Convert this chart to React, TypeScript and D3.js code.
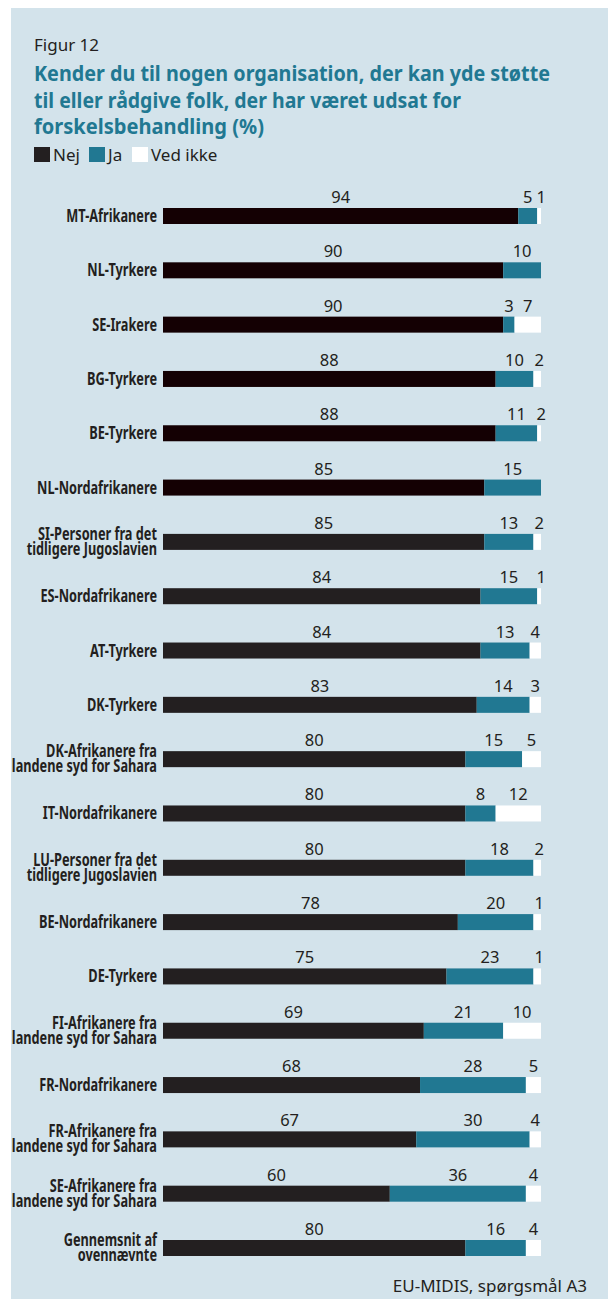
import * as d3 from "d3";

const categories = [
  "MT-Afrikanere",
  "NL-Tyrkere",
  "SE-Irakere",
  "BG-Tyrkere",
  "BE-Tyrkere",
  "NL-Nordafrikanere",
  "SI-Personer fra det|tidligere Jugoslavien",
  "ES-Nordafrikanere",
  "AT-Tyrkere",
  "DK-Tyrkere",
  "DK-Afrikanere fra|landene syd for Sahara",
  "IT-Nordafrikanere",
  "LU-Personer fra det|tidligere Jugoslavien",
  "BE-Nordafrikanere",
  "DE-Tyrkere",
  "FI-Afrikanere fra|landene syd for Sahara",
  "FR-Nordafrikanere",
  "FR-Afrikanere fra|landene syd for Sahara",
  "SE-Afrikanere fra|landene syd for Sahara",
  "Gennemsnit af|ovennævnte",
];
const nej = [94, 90, 90, 88, 88, 85, 85, 84, 84, 83, 80, 80, 80, 78, 75, 69, 68, 67, 60, 80];
const ja = [5, 10, 3, 10, 11, 15, 13, 15, 13, 14, 15, 8, 18, 20, 23, 21, 28, 30, 36, 16];
const vedIkke = [1, 0, 7, 2, 2, 0, 2, 1, 4, 3, 5, 12, 2, 1, 1, 10, 5, 4, 4, 4];

const legendLabels = ["Nej", "Ja", "Ved ikke"];
const titleLines = [
  "Kender du til nogen organisation, der kan yde støtte",
  "til eller rådgive folk, der har været udsat for",
  "forskelsbehandling (%)",
];
const titleWidths = [516, 427, 230];

const W = 608;
const H = 1299;
const BG = "#d3e3eb";
const TEAL = "#217892";
const DARK = "#231f20";
const DARK_RED = "#140003";
const FONT = "'Noto Sans', 'Open Sans', sans-serif";

export default function App() {
  const x = d3.scaleLinear().domain([0, 100]).range([163, 541]);
  const y = d3.scalePoint<string>().domain(categories).range([216, 1248]);
  const barH = 16;

  const rows = categories.map((c, i) => {
    const a = nej[i];
    const b = nej[i] + ja[i];
    return {
      name: c,
      lines: c.split("|"),
      segs: [
        { x0: 0, x1: a, v: nej[i], fill: i < 6 ? DARK_RED : DARK },
        { x0: a, x1: b, v: ja[i], fill: TEAL },
        // "Ved ikke" fills the rest of the bar up to 100 %
        { x0: b, x1: 100, v: vedIkke[i], fill: "#ffffff" },
      ],
    };
  });

  const legendColors = [DARK, TEAL, "#ffffff"];
  const legendX = [34, 89, 132];

  return (
    <svg
      width={W}
      height={H}
      style={{ position: "absolute", left: 0, top: 0, display: "block" }}
    >
      <rect x={0} y={0} width={W} height={H} fill="#ffffff" />
      <rect x={11} y={8} width={W - 11} height={H - 8} fill={BG} />

      <text x={34} y={51} fontFamily={FONT} fontSize={17} fill={DARK}>
        Figur 12
      </text>
      {titleLines.map((t, i) => (
        <text
          key={i}
          x={34}
          y={81 + i * 26.5}
          fontFamily={FONT}
          fontWeight={700}
          fontSize={20.5}
          fill={TEAL}
          textLength={titleWidths[i]}
          lengthAdjust="spacingAndGlyphs"
        >
          {t}
        </text>
      ))}

      {legendLabels.map((l, i) => (
        <g key={l} transform={`translate(${legendX[i]},147)`}>
          <rect width={16} height={15} fill={legendColors[i]} />
          <text x={19} y={14} fontFamily={FONT} fontSize={17} fill={DARK}>
            {l}
          </text>
        </g>
      ))}

      {rows.map((r) => {
        const cy = y(r.name)!;
        return (
          <g key={r.name}>
            {r.segs.map((s, j) =>
              x(s.x1) - x(s.x0) > 0 ? (
                <rect
                  key={j}
                  x={x(s.x0)}
                  y={cy - barH / 2}
                  width={x(s.x1) - x(s.x0)}
                  height={barH}
                  fill={s.fill}
                />
              ) : null
            )}
            {r.segs.map((s, j) =>
              s.v > 0 ? (
                <text
                  key={"v" + j}
                  x={(x(s.x0) + x(s.x1)) / 2 + (j === 2 && s.v < 3 ? 2 : 0)}
                  y={cy - 13}
                  textAnchor="middle"
                  fontFamily={FONT}
                  fontSize={16.5}
                  fill={DARK}
                >
                  {s.v}
                </text>
              ) : null
            )}
            <g transform={`translate(157,${cy}) scale(0.75,1)`}>
              <text
                x={0}
                y={r.lines.length === 1 ? 6 : -2}
                textAnchor="end"
                fontFamily={FONT}
                fontWeight={700}
                fontSize={17}
                fill={DARK}
              >
                {r.lines.map((ln, k) => (
                  <tspan key={k} x={0} dy={k === 0 ? 0 : 15}>
                    {ln}
                  </tspan>
                ))}
              </text>
            </g>
          </g>
        );
      })}

      <text
        x={587}
        y={1292}
        textAnchor="end"
        fontFamily={FONT}
        fontSize={17}
        fill={DARK}
      >
        EU-MIDIS, spørgsmål A3
      </text>
    </svg>
  );
}
